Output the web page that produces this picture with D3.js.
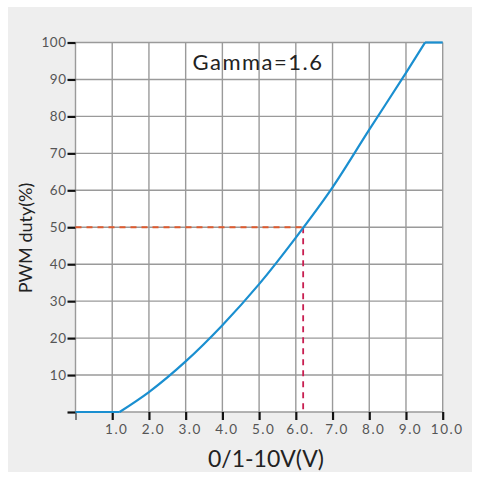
<!DOCTYPE html>
<html>
<head>
<meta charset="utf-8">
<script src="https://cdn.jsdelivr.net/npm/d3@7"></script>
<style>
  body { margin: 0; background: #fff; }
  text { font-family: Lato, "Noto Sans", sans-serif; }
</style>
</head>
<body>
<div id="chart"></div>
<script>
// curve: control voltage (V) -> PWM duty (%)
const voltage = [0, 1.2, 2.0, 3.0, 4.0, 5.0, 6.0, 7.0, 8.0, 9.0, 9.52, 10.0];
const duty    = [0, 0,   5.4, 13.7, 23.5, 34.6, 47.2, 60.8, 76.4, 91.8, 100, 100];

// reference point marked with dashed lines
const markV = 6.2;
const markDuty = 50;

const xTicks = [0, 1, 2, 3, 4, 5, 6, 7, 8, 9, 10];
const xTickLabels = ["", "1.0", "2.0", "3.0", "4.0", "5.0", "6.0.", "7.0", "8.0", "9.0", "10.0"];
const yTicks = [0, 10, 20, 30, 40, 50, 60, 70, 80, 90, 100];
const yTickLabels = ["", "10", "20", "30", "40", "50", "60", "70", "80", "90", "100"];

const W = 477, H = 484;
const margin = { top: 42.5, right: 34.3, bottom: 72, left: 75.5 };

const svg = d3.select("#chart").append("svg")
    .attr("width", W)
    .attr("height", H);

// grey panel
svg.append("rect")
    .attr("x", 8).attr("y", 7)
    .attr("width", 464).attr("height", 465)
    .attr("fill", "#eeeeee");

const x = d3.scaleLinear().domain([0, 10]).range([margin.left, W - margin.right]);
const y = d3.scaleLinear().domain([0, 100]).range([H - margin.bottom, margin.top]);

// plot background
svg.append("rect")
    .attr("x", x(0)).attr("y", y(100))
    .attr("width", x(10) - x(0)).attr("height", y(0) - y(100))
    .attr("fill", "#fff");

// grid
const grid = svg.append("g").attr("stroke", "#9a9a9a").attr("stroke-width", 1.4);
grid.selectAll("line.v").data(xTicks).enter().append("line")
    .attr("x1", d => x(d)).attr("x2", d => x(d))
    .attr("y1", y(0)).attr("y2", y(100));
grid.selectAll("line.h").data(yTicks).enter().append("line")
    .attr("x1", x(0)).attr("x2", x(10))
    .attr("y1", d => y(d)).attr("y2", d => y(d));

// axes (ticks + labels only, grid does the lines)
const yAxis = svg.append("g")
    .attr("transform", `translate(${x(0)},0)`)
    .call(d3.axisLeft(y).tickValues(yTicks).tickSize(8).tickPadding(1)
        .tickFormat((d, i) => yTickLabels[i]));
yAxis.select(".domain").remove();
yAxis.selectAll(".tick line").attr("stroke", "#111").attr("stroke-width", 2.2);
yAxis.selectAll(".tick text")
    .attr("fill", "#555").attr("font-size", 13.5).style("letter-spacing", "0.5px");

const xAxis = svg.append("g")
    .attr("transform", `translate(0,${y(0)})`)
    .call(d3.axisBottom(x).tickValues(xTicks).tickSize(8).tickPadding(4)
        .tickFormat((d, i) => xTickLabels[i]));
xAxis.select(".domain").remove();
xAxis.selectAll(".tick line").attr("stroke", "#111").attr("stroke-width", d => d === 0 ? 1 : 2.2);
xAxis.selectAll(".tick text")
    .attr("fill", "#555").attr("font-size", 13.5).attr("dx", 4)
    .style("letter-spacing", "1.5px");

// dashed marker lines
svg.append("line")
    .attr("x1", x(0)).attr("x2", x(markV))
    .attr("y1", y(markDuty)).attr("y2", y(markDuty))
    .attr("stroke", "#de5a2e").attr("stroke-width", 1.8)
    .attr("stroke-dasharray", "6,5");
svg.append("line")
    .attr("x1", x(markV)).attr("x2", x(markV))
    .attr("y1", y(markDuty)).attr("y2", y(0))
    .attr("stroke", "#c81e50").attr("stroke-width", 1.8)
    .attr("stroke-dasharray", "6,5");

// curve: flat parts straight, rising part smoothed (sharp corners at both ends)
const pts = voltage.map((v, i) => [v, duty[i]]);
const first = duty.lastIndexOf(0);
const last = duty.indexOf(100);
const lineLin = d3.line().x(d => x(d[0])).y(d => y(d[1]));
const lineSmooth = d3.line().x(d => x(d[0])).y(d => y(d[1])).curve(d3.curveMonotoneX);
const curve = svg.append("g")
    .attr("fill", "none")
    .attr("stroke", "#1a8fd0")
    .attr("stroke-width", 2.2)
    .attr("stroke-linejoin", "round");
curve.append("path").attr("d", lineLin(pts.slice(0, first + 1)));
curve.append("path").attr("d", lineSmooth(pts.slice(first, last + 1)));
curve.append("path").attr("d", lineLin(pts.slice(last)));

// titles
svg.append("text")
    .attr("x", 258).attr("y", 70)
    .attr("text-anchor", "middle")
    .attr("font-size", 22).attr("fill", "#222")
    .style("letter-spacing", "1.5px")
    .text("Gamma=1.6");

svg.append("text")
    .attr("x", 266).attr("y", 467)
    .attr("text-anchor", "middle")
    .attr("font-size", 23).attr("fill", "#222")
    .text("0/1-10V(V)");

svg.append("text")
    .attr("transform", "translate(32,238) rotate(-90)")
    .attr("text-anchor", "middle")
    .attr("font-size", 18).attr("fill", "#222")
    .text("PWM duty(%)");
</script>
</body>
</html>
